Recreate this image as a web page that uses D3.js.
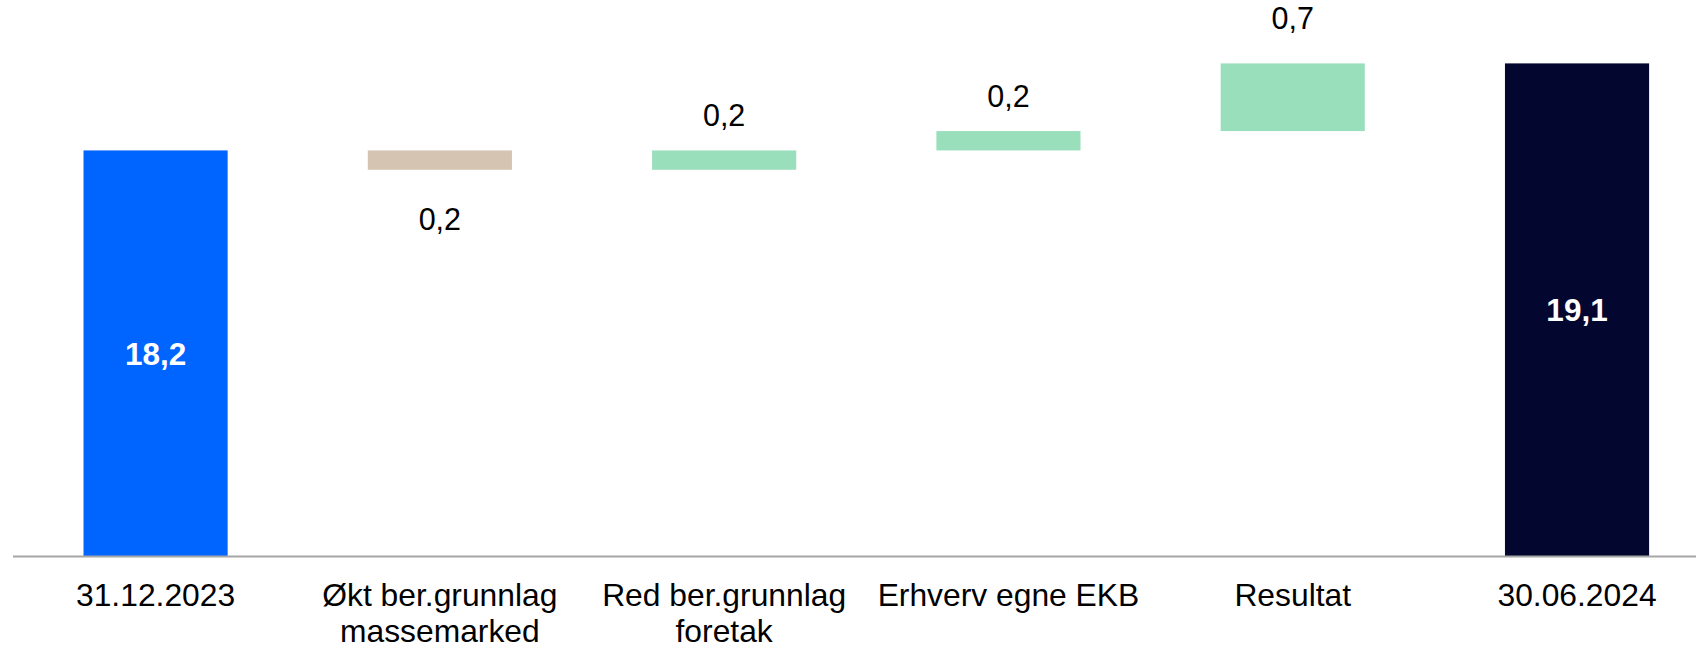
<!DOCTYPE html>
<html>
<head>
<meta charset="utf-8">
<script src="https://cdn.jsdelivr.net/npm/d3@7"></script>
<style>
  html, body { margin: 0; padding: 0; background: #ffffff; }
  svg { display: block; }
  text { font-family: "Liberation Sans", Arial, sans-serif; }
</style>
</head>
<body>
<svg id="chart" width="1696" height="648"></svg>
<script>
// ---- data ----
const categories = [
  ["31.12.2023"],
  ["Økt ber.grunnlag", "massemarked"],
  ["Red ber.grunnlag", "foretak"],
  ["Erhverv egne EKB"],
  ["Resultat"],
  ["30.06.2024"]
];
const changes = [18.2, -0.2, 0.2, 0.2, 0.7, 19.1];
const kinds = ["total", "decrease", "increase", "increase", "increase", "total"];
const valueLabels = ["18,2", "0,2", "0,2", "0,2", "0,7", "19,1"];
const yDomain = [14, 19.1];

const colors = {
  totalStart: "#0064ff",
  totalEnd: "#03062f",
  increase: "#9adfbc",
  decrease: "#d5c4b2"
};

// ---- build waterfall segments ----
let running = 0;
const segs = changes.map((v, i) => {
  let lo, hi;
  if (kinds[i] === "total") {
    lo = yDomain[0]; hi = v; running = v;
  } else {
    const start = running, end = running + v;
    lo = Math.min(start, end); hi = Math.max(start, end);
    running = end;
  }
  return { i, lo, hi, kind: kinds[i], label: valueLabels[i] };
});

const svg = d3.select("#chart");

const x = d3.scaleBand()
  .domain(d3.range(categories.length))
  .range([13, 1719.6])
  .paddingInner(0.493)
  .paddingOuter(0.248);

const y = d3.scaleLinear().domain(yDomain).range([556.5, 63.4]);

function fillFor(d) {
  if (d.kind === "total") return d.i === 0 ? colors.totalStart : colors.totalEnd;
  return d.kind === "increase" ? colors.increase : colors.decrease;
}

// bars
svg.append("g").selectAll("rect")
  .data(segs).join("rect")
  .attr("x", d => x(d.i))
  .attr("width", x.bandwidth())
  .attr("y", d => y(d.hi))
  .attr("height", d => y(d.lo) - y(d.hi))
  .attr("fill", fillFor);

// baseline axis
svg.append("line")
  .attr("x1", 13).attr("x2", 1696)
  .attr("y1", y(yDomain[0])).attr("y2", y(yDomain[0]))
  .attr("stroke", "#a6a6a6").attr("stroke-width", 1.8);

// value labels
const lab = svg.append("g").attr("text-anchor", "middle");
segs.forEach(d => {
  const cx = x(d.i) + x.bandwidth() / 2;
  const h = y(d.lo) - y(d.hi);
  if (d.kind === "total") {
    lab.append("text")
      .attr("x", cx)
      .attr("y", (y(d.hi) + y(d.lo)) / 2)
      .attr("dy", "0.36em")
      .attr("font-size", 31.5)
      .attr("font-weight", "bold")
      .attr("fill", "#ffffff")
      .text(d.label);
  } else if (d.kind === "increase") {
    lab.append("text")
      .attr("x", cx)
      .attr("y", y(d.hi) - (20.5 + 0.2 * h))
      .attr("font-size", 30.5)
      .attr("fill", "#000000")
      .text(d.label);
  } else {
    lab.append("text")
      .attr("x", cx)
      .attr("y", y(d.lo) + 60)
      .attr("font-size", 30.5)
      .attr("fill", "#000000")
      .text(d.label);
  }
});

// category labels
const cat = svg.append("g").attr("text-anchor", "middle");
categories.forEach((lines, i) => {
  const t = cat.append("text")
    .attr("x", x(i) + x.bandwidth() / 2)
    .attr("y", 606)
    .attr("font-size", 31.8)
    .attr("fill", "#000000");
  lines.forEach((ln, k) => {
    t.append("tspan")
      .attr("x", x(i) + x.bandwidth() / 2)
      .attr("dy", k === 0 ? 0 : 36)
      .text(ln);
  });
});
</script>
</body>
</html>
